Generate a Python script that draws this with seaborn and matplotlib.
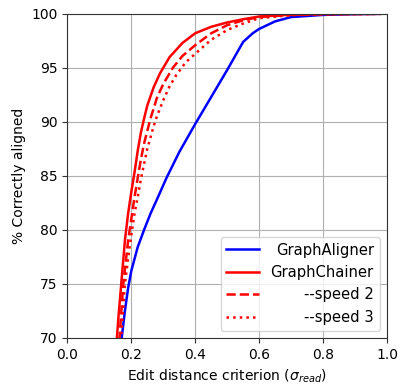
import pandas as pd
import matplotlib
matplotlib.use("Agg")
import matplotlib.pyplot as plt
import seaborn as sns

# values (x = edit distance criterion, y = % correctly aligned)
ga_x = [0.165, 0.17, 0.18, 0.19, 0.20, 0.22, 0.24, 0.26, 0.28, 0.31, 0.35, 0.40, 0.45, 0.50, 0.55,
        0.58, 0.60, 0.65, 0.70, 0.80, 0.90, 0.98]
ga_y = [68.5, 70.0, 72.5, 74.6, 76.2, 78.4, 80.0, 81.5, 82.8, 84.8, 87.2, 89.8, 92.3, 94.8, 97.4,
        98.2, 98.6, 99.3, 99.7, 99.9, 99.97, 100.0]

gc_x = [0.152, 0.155, 0.16, 0.17, 0.18, 0.19, 0.20, 0.21, 0.22, 0.23, 0.24, 0.25, 0.27, 0.29, 0.32,
        0.36, 0.40, 0.45, 0.50, 0.55, 0.60, 0.70, 0.80, 0.98]
gc_y = [68.5, 70.0, 72.0, 75.5, 79.0, 81.5, 83.5, 85.3, 87.3, 89.0, 90.3, 91.5, 93.2, 94.5, 96.0,
        97.3, 98.2, 98.8, 99.2, 99.5, 99.75, 99.92, 99.98, 100.0]

s2_x = [0.16, 0.163, 0.175, 0.19, 0.20, 0.21, 0.22, 0.23, 0.24, 0.26, 0.28, 0.30, 0.33, 0.36, 0.40,
        0.45, 0.50, 0.55, 0.60, 0.70, 0.80, 0.98]
s2_y = [68.5, 70.0, 75.0, 79.0, 81.0, 83.0, 84.8, 86.5, 88.0, 90.3, 92.2, 93.5, 95.0, 96.1, 97.1,
        98.2, 98.95, 99.4, 99.7, 99.9, 99.97, 100.0]

s3_x = [0.165, 0.168, 0.18, 0.195, 0.21, 0.22, 0.23, 0.25, 0.27, 0.28, 0.30, 0.32, 0.34, 0.37, 0.40,
        0.45, 0.50, 0.55, 0.60, 0.70, 0.80, 0.98]
s3_y = [68.5, 70.0, 75.0, 78.5, 81.5, 83.0, 84.7, 87.5, 89.6, 90.5, 92.0, 93.3, 94.3, 95.5, 96.3,
        97.6, 98.5, 99.1, 99.6, 99.88, 99.96, 100.0]

labels = ["GraphAligner", "GraphChainer", "--speed 2", "--speed 3"]
colors = ["blue", "red", "red", "red"]
styles = ["-", "-", "--", ":"]

series = [(ga_x, ga_y), (gc_x, gc_y), (s2_x, s2_y), (s3_x, s3_y)]

fig, ax = plt.subplots(figsize=(4.01, 3.84), dpi=100)
fig.subplots_adjust(left=0.168, right=0.965, top=0.964, bottom=0.12)

for (xs, ys), lab, col, ls in zip(series, labels, colors, styles):
    df = pd.DataFrame({"x": xs, "y": ys})
    sns.lineplot(data=df, x="x", y="y", ax=ax, color=col, linestyle=ls,
                 linewidth=1.8, label=lab, sort=False, estimator=None)

ax.set_xlim(0, 1)
ax.set_ylim(70, 100)
ax.grid(True, color="#b0b0b0", linewidth=0.8)
ax.set_axisbelow(True)
for sp in ax.spines.values():
    sp.set_color("#333333")
ax.tick_params(color="#333333")
ax.set_xlabel(r"Edit distance criterion ($\sigma_{read}$)")
ax.set_ylabel("% Correctly aligned")

leg = ax.legend(loc="lower right", fontsize=10.6, handlelength=2.2)

# right-align the legend labels: nudge shorter labels to the right
fig.canvas.draw()
renderer = fig.canvas.get_renderer()
widths = [t.get_window_extent(renderer).width for t in leg.get_texts()]
wmax = max(widths)
for t, w in zip(leg.get_texts(), widths):
    t.set_position((wmax - w, 0))

fig.savefig("out.png", dpi=100)
